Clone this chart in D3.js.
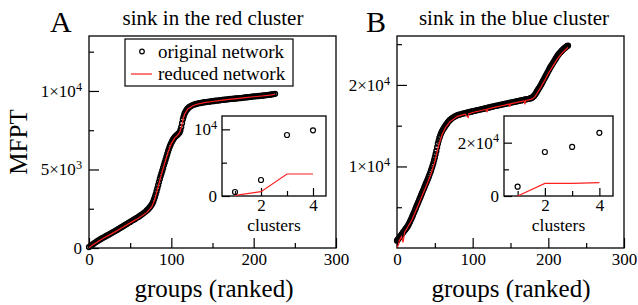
<!DOCTYPE html>
<html><head><meta charset="utf-8">
<script src="https://cdn.jsdelivr.net/npm/d3@7"></script>
<style>
body{margin:0;background:#fff}
svg{display:block}
text{font-family:"Liberation Serif","Times New Roman",serif;fill:#000}
</style>
</head><body>
<svg id="c" width="638" height="305"></svg>
<script>
// ---------- DATA ----------
// Panel A: original network MFPT, groups ranked 0,2,4,...,226
const origA = [60,130,210,290,360,430,500,560,620,680,740,800,850,910,970,1030,1090,1150,1210,1280,
1340,1400,1470,1530,1600,1660,1730,1790,1850,1920,1980,2060,2130,2210,2290,2380,2480,2600,2750,2950,
3250,3600,4000,4400,4750,5100,5450,5800,6150,6450,6700,6900,7050,7150,7250,7350,7700,8200,8550,8750,
8880,8980,9050,9100,9140,9170,9200,9220,9240,9260,9280,9290,9310,9320,9340,9350,9360,9380,9390,9400,
9420,9430,9440,9450,9470,9480,9490,9500,9510,9520,9530,9540,9550,9560,9580,9590,9600,9610,9620,9640,
9650,9660,9670,9680,9690,9700,9710,9720,9740,9750,9760,9780,9800,9820];
// extra (odd) ranks in the steep part
const extraRankA = [71,73,75,77,79,81,83,85,87,89,91,93,95,97,99,101,103,105,107,109,111,113,115,117,119,121];
const extraA = [2430,2540,2670,2840,3100,3420,3800,4200,4580,4920,5280,5620,5970,6300,6580,6800,6980,7100,7200,7300,7500,7950,8380,8650,8820,8930];
const redRankA = [0,10,20,30,40,50,60,70,76,80,84,88,92,96,100,104,108,110,112,114,116,120,125,130,140,150,160,170,180,190,200,210,220,226];
const redA = [30,380,700,980,1290,1600,1900,2250,2600,3100,3900,4700,5400,6100,6650,7000,7200,7350,7650,8150,8500,8850,9030,9140,9260,9330,9400,9460,9510,9570,9630,9680,9740,9790];

// Panel B
const origB = [900,1150,1400,1650,1900,2150,2400,2650,3000,3400,3800,4250,4700,5150,5600,6050,6500,6950,7400,7850,
8300,8750,9250,9800,10400,11100,11900,12800,13500,14000,14400,14700,15000,15250,15500,15700,15850,16000,16100,16200,
16300,16350,16400,16450,16500,16550,16600,16640,16680,16720,16770,16810,16850,16900,16940,16980,17020,17070,17110,17150,
17200,17240,17290,17330,17380,17420,17460,17500,17540,17580,17620,17660,17700,17740,17780,17820,17860,17900,17940,17980,
18020,18060,18100,18140,18180,18220,18260,18300,18350,18420,18550,18750,19050,19350,19650,19950,20300,20650,21000,21350,
21700,22050,22350,22650,22950,23250,23550,23800,24000,24200,24400,24550,24700,24820];
const extraRankB = [1,3,5,7,9,11,13,15,17,19,21,23,25,27,29,31,33,35,37,39,41,43,45,47,49,51,53,55,57,59,61,63,65,67,69,
177,179,181,183,185,187,189,191,193,195,197,199,201,203,205,207,209,211,213,215,217,219,221,223,225];
const extraB = [1020,1270,1520,1770,2020,2270,2520,2820,3200,3600,4020,4470,4920,5370,5820,6270,6720,7170,7620,8070,8520,9000,9520,10100,10750,11500,12350,13150,13750,14200,14550,14850,15120,15380,15600,
18380,18480,18640,18900,19200,19500,19800,20120,20470,20820,21170,21520,21870,22200,22500,22800,23100,23400,23680,23900,24100,24300,24480,24620,24760];
const redRankB = [0,2,3,6,8,10,15,20,25,30,35,40,45,50,55,60,65,70,80,90,94,95,100,110,118,119,120,130,140,148,149,150,160,168,169,170,178,182,186,190,196,200,206,212,218,222,226];
const redB = [100,400,900,1400,700,1900,2700,3500,4600,5700,6800,7900,9100,10600,12600,14000,14900,15500,16150,16400,16000,16480,16620,16830,17000,16650,17050,17280,17480,17650,17300,17680,17880,18030,17600,18070,18250,18500,19100,19700,20700,21400,22300,23200,23900,24250,24600];

// Insets: MFPT vs number of clusters
const clusters = [1,2,3,4];
const insetOrigA = [600,2400,9150,9850];
const insetRedA  = [100,650,3300,3300];
const insetOrigB = [3500,16500,18400,23700];
const insetRedB  = [0,4750,4750,5050];

// Tick values / labels
const mainXTicks = [0,100,200,300];
const mainXMinor = [50,150,250];
const yTicksA = [0,5000,10000];
const yLabelsA = [["0",""],["5×10","3"],["1×10","4"]];
const yMinorA = [2500,7500,12500];
const yTicksB = [10000,20000];
const yLabelsB = [["1×10","4"],["2×10","4"]];
const yMinorB = [5000,15000,25000];
const inXTicks = [2,4];
const inXMinor = [1,3];
const inYTicksA = [0,10000];
const inYLabelsA = [["0",""],["10","4"]];
const inYMinorA = [5000];
const inYTicksB = [0,20000];
const inYLabelsB = [["0",""],["2×10","4"]];
const inYMinorB = [10000];

const titles = ["sink in the red cluster","sink in the blue cluster"];
const letters = ["A","B"];
const legendLabels = ["original network","reduced network"];

// ---------- DRAW ----------
const FONT = '"Liberation Serif","Times New Roman",serif';
const svg = d3.select("#c");

function supLabels(sel, labels){
  sel.selectAll(".tick text").each(function(d,i){
    const t = d3.select(this); const l = labels[i];
    t.text(null);
    t.append("tspan").text(l[0]);
    if(l[1]) t.append("tspan").attr("dy","-0.5em").attr("font-size","0.72em").text(l[1]);
  });
}
function styleAxis(g, fs){
  g.attr("font-family",null);
  g.select(".domain").remove();
  g.selectAll(".tick line").attr("stroke","#000").attr("stroke-width",1.2);
  g.selectAll(".tick text").attr("font-size",fs).style("font-family",FONT).attr("fill","#000");
}
function axes(g, x, y, L, B, o){
  const ax = g.append("g").attr("transform",`translate(0,${B})`)
    .call(d3.axisBottom(x).tickValues(o.xt).tickSize(-o.maj).tickPadding(o.xpad).tickFormat(o.xfmt));
  styleAxis(ax, o.fs);
  const axm = g.append("g").attr("transform",`translate(0,${B})`)
    .call(d3.axisBottom(x).tickValues(o.xm).tickSize(-o.min).tickFormat(""));
  styleAxis(axm, o.fs);
  const ay = g.append("g").attr("transform",`translate(${L},0)`)
    .call(d3.axisLeft(y).tickValues(o.yt).tickSize(-o.maj).tickPadding(o.ypad));
  styleAxis(ay, o.fs);
  supLabels(ay, o.yl);
  const aym = g.append("g").attr("transform",`translate(${L},0)`)
    .call(d3.axisLeft(y).tickValues(o.ym).tickSize(-o.min).tickFormat(""));
  styleAxis(aym, o.fs);
}

const panels = [
  {L:89,R:336,T:36,B:248,yMax:13500,orig:origA,exR:extraRankA,ex:extraA,redR:redRankA,red:redA,yt:yTicksA,yl:yLabelsA,ym:yMinorA,
   title:titles[0],letter:letters[0],letterX:50,titleX:213,labelX:214,
   inset:{L:222,R:326,T:116,B:196,yMax:12000,orig:insetOrigA,red:insetRedA,yt:inYTicksA,yl:inYLabelsA,ym:inYMinorA},
   legend:true},
  {L:397,R:624,T:36,B:248,yMax:26000,orig:origB,exR:extraRankB,ex:extraB,redR:redRankB,red:redB,yt:yTicksB,yl:yLabelsB,ym:yMinorB,
   title:titles[1],letter:letters[1],letterX:366,titleX:514,labelX:511,
   inset:{L:504,R:613,T:116,B:196,yMax:30000,orig:insetOrigB,red:insetRedB,yt:inYTicksB,yl:inYLabelsB,ym:inYMinorB},
   legend:false}
];

panels.forEach(p=>{
  const g = svg.append("g");
  const x = d3.scaleLinear().domain([0,300]).range([p.L,p.R]);
  const y = d3.scaleLinear().domain([0,p.yMax]).range([p.B,p.T]);
  g.append("rect").attr("x",p.L).attr("y",p.T).attr("width",p.R-p.L).attr("height",p.B-p.T)
    .attr("fill","#fff").attr("stroke","#000").attr("stroke-width",1.3);
  axes(g,x,y,p.L,p.B,{xt:mainXTicks,xm:mainXMinor,yt:p.yt,yl:p.yl,ym:p.ym,maj:10,min:5,xpad:5,ypad:7,fs:"17px",xfmt:d3.format("d")});

  const ranks = d3.range(0, p.orig.length*2, 2);
  const pts = p.orig.map((v,i)=>[ranks[i],v]).concat(p.ex.map((v,i)=>[p.exR[i],v]));
  g.append("g").selectAll("circle").data(pts).join("circle")
    .attr("cx",d=>x(d[0])).attr("cy",d=>y(d[1])).attr("r",2.4)
    .attr("fill","none").attr("stroke","#000").attr("stroke-width",1.5);
  g.append("path").datum(p.red)
    .attr("d",d3.line().x((d,i)=>x(p.redR[i])).y(d=>y(d)))
    .attr("fill","none").attr("stroke","#ff2020").attr("stroke-width",1.2);

  // inset
  const q = p.inset;
  const xi = d3.scaleLinear().domain([0.5,4.5]).range([q.L,q.R]);
  const yi = d3.scaleLinear().domain([0,q.yMax]).range([q.B,q.T]);
  const gi = svg.append("g");
  gi.append("rect").attr("x",q.L).attr("y",q.T).attr("width",q.R-q.L).attr("height",q.B-q.T)
    .attr("fill","#fff").attr("stroke","#000").attr("stroke-width",1.3);
  axes(gi,xi,yi,q.L,q.B,{xt:inXTicks,xm:inXMinor,yt:q.yt,yl:q.yl,ym:q.ym,maj:8,min:5,xpad:3,ypad:5,fs:"17px",xfmt:d3.format("d")});
  gi.append("path").datum(q.red)
    .attr("d",d3.line().x((d,i)=>xi(clusters[i])).y(d=>yi(d)))
    .attr("fill","none").attr("stroke","#ff2020").attr("stroke-width",1.2);
  gi.selectAll("circle").data(q.orig).join("circle")
    .attr("cx",(d,i)=>xi(clusters[i])).attr("cy",d=>yi(d)).attr("r",2.5)
    .attr("fill","none").attr("stroke","#000").attr("stroke-width",1.2);
  gi.append("text").attr("x",(q.L+q.R)/2).attr("y",231).attr("text-anchor","middle")
    .attr("font-size","17.5px").text("clusters");

  // texts
  svg.append("text").attr("x",p.letterX).attr("y",32).attr("font-size","30px").text(p.letter);
  svg.append("text").attr("x",p.titleX).attr("y",25).attr("text-anchor","middle").attr("font-size","21px").text(p.title);
  svg.append("text").attr("x",p.labelX).attr("y",297).attr("text-anchor","middle").attr("font-size","25px").text("groups (ranked)");

  if(p.legend){
    const lg = svg.append("g");
    lg.append("rect").attr("x",125).attr("y",39).attr("width",168).attr("height",47)
      .attr("fill","#fff").attr("stroke","#000").attr("stroke-width",1.2);
    lg.append("circle").attr("cx",142).attr("cy",51.5).attr("r",2.3).attr("fill","none").attr("stroke","#000").attr("stroke-width",1.2);
    lg.append("line").attr("x1",131).attr("x2",152).attr("y1",74).attr("y2",74).attr("stroke","#ff2020").attr("stroke-width",1.2);
    lg.append("text").attr("x",158).attr("y",57.5).attr("font-size","19px").text(legendLabels[0]);
    lg.append("text").attr("x",158).attr("y",79.5).attr("font-size","19px").text(legendLabels[1]);
  }
});

svg.append("text").attr("transform","translate(27,142) rotate(-90)").attr("text-anchor","middle")
  .attr("font-size","25px").text("MFPT");
</script>
</body></html>
